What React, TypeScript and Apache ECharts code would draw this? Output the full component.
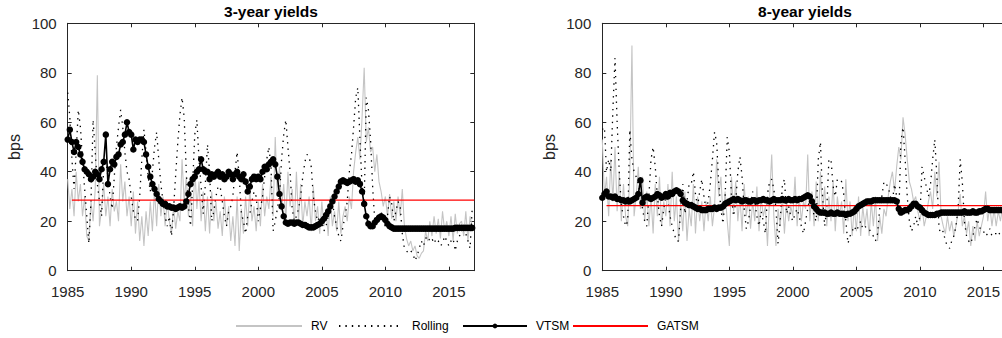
import React, { useEffect, useRef } from "react";
import * as echarts from "echarts";

// Bimonthly observations starting January 1985 (6 values per year)
const START_YEAR = 1985;
const STEP = 1 / 6;

const years = ["1985", "1990", "1995", "2000", "2005", "2010", "2015"];

// ---------- 3-year yields ----------
const rv3 = [
  37, 25, 33, 22, 40, 28,
  35, 22, 30, 14, 12, 28,
  20, 33, 79, 18, 25, 35,
  22, 30, 18, 33, 24, 28,
  20, 43, 28, 36, 22, 30,
  18, 32, 15, 28, 12, 22,
  10, 24, 14, 28, 16, 33,
  18, 35, 22, 30, 18, 28,
  20, 15, 26, 17, 24, 20,
  45, 28, 38, 22, 30, 18,
  42, 25, 36, 20, 32, 16,
  30, 15, 32, 20, 28, 17,
  24, 14, 30, 18, 26, 12,
  22, 10, 30, 8, 25, 15,
  30, 18, 33, 20, 26, 16,
  28, 18, 35, 22, 30, 25,
  38, 22, 54, 30, 42, 25,
  35, 20, 40, 26, 33, 18,
  40, 20, 35, 18, 28, 22,
  30, 16, 34, 20, 26, 15,
  28, 18, 25, 14, 30, 18,
  24, 16, 28, 15, 22, 26,
  20, 30, 25, 40, 48, 54,
  45, 62, 82, 52, 58, 48,
  50, 40, 47, 36, 32, 26,
  30, 22, 31, 21, 28, 20,
  30, 22, 33, 18, 13, 10,
  12, 8, 10, 6, 5, 7,
  8, 16, 12, 20, 14, 22,
  15, 21, 13, 24, 16, 20,
  14, 22, 12, 23, 15, 19,
  20, 14, 24, 12, 22, 18,
];

const rolling3 = [
  72, 62, 45, 33, 48, 65,
  58, 45, 33, 22, 11, 28,
  61, 48, 35, 28, 22, 42,
  45, 38, 30, 25, 38, 50,
  58, 65, 58, 48, 40, 37,
  30, 24, 21, 20, 30, 45,
  57, 48, 38, 32, 40, 50,
  56, 45, 35, 28, 22, 18,
  22, 14, 25, 39, 52, 63,
  70, 62, 40, 26, 18, 35,
  55, 61, 45, 34, 23, 35,
  51, 40, 20, 24, 30, 34,
  34, 28, 22, 18, 24, 26,
  30, 40, 48, 38, 23, 20,
  15, 22, 23, 28, 32, 30,
  20, 25, 30, 38, 45, 50,
  42, 16, 20, 25, 30, 45,
  55, 61, 50, 40, 25, 20,
  22, 25, 30, 38, 44, 47,
  46, 42, 30, 24, 20, 22,
  20, 16, 18, 22, 25, 28,
  22, 18, 14, 12, 18, 22,
  28, 40, 47, 58, 70, 74,
  53, 34, 27, 70, 65, 53,
  34, 20, 22, 20, 24, 20,
  18, 22, 30, 27, 20, 24,
  28, 26, 15, 9, 8, 7,
  8, 7, 4, 6, 9, 12,
  10, 13, 14, 12, 13, 11,
  13, 12, 10, 11, 14, 12,
  10, 12, 13, 8, 12, 14,
  16, 18, 15, 12, 9, 25,
];

const vtsm3 = [
  53, 57, 52, 48, 52, 50,
  47, 44, 41, 40, 39, 37,
  38, 40, 39, 37, 41, 44,
  55, 35, 41, 44, 43, 46,
  47, 51, 52, 55, 60, 56,
  55, 49, 53, 52, 53, 53,
  52, 47, 42, 38, 35, 33,
  31, 29, 28, 27, 27, 26,
  26, 25.5, 25.5, 25, 25.5, 26,
  25.5, 26, 28, 31, 35, 37,
  38, 40, 41, 45, 41, 40,
  40, 37, 39, 38, 39, 40,
  38, 39, 37, 38, 40, 39,
  37, 39, 40, 38, 37, 39,
  36, 32, 34, 37, 38, 37,
  38, 37, 40, 42, 41, 43,
  44, 45, 43, 38, 31, 26,
  22, 19.5, 19, 19.5, 19.5, 19,
  19.5, 19.5, 19, 18.5, 18.5, 18,
  17.5, 17.5, 17.5, 18, 18.5, 19,
  20, 21, 22.5, 24, 26, 28,
  30, 32, 34, 36, 36.5, 36,
  35.5, 36, 36.5, 37, 36, 36.5,
  35, 32, 27, 22, 19, 18,
  18, 19.5, 20.5, 21.5, 22, 21.5,
  20.5, 19, 18, 17.5, 17, 17,
  17, 17, 17, 17, 17, 17,
  17, 17, 17, 17, 17, 17,
  17, 17, 17, 17, 17, 17,
  17, 17, 17, 17, 17, 17,
  17, 17, 17, 17.3, 17.3, 17.3,
  17.3, 17.3, 17.3, 17.3, 17.3, 17.3,
];

const gatsm3 = 28.5;

// ---------- 8-year yields ----------
const rv8 = [
  53, 30, 38, 22, 45, 28,
  50, 24, 40, 20, 35, 22,
  18, 40, 91, 22, 30, 42,
  25, 38, 20, 32, 18, 30,
  15, 35, 22, 38, 18, 28,
  22, 35, 18, 40, 20, 30,
  12, 28, 16, 32, 12, 25,
  18, 35, 15, 30, 20, 28,
  16, 28, 20, 30, 18, 26,
  45, 30, 38, 22, 32, 20,
  10, 38, 24, 36, 20, 30,
  16, 35, 22, 30, 17, 28,
  20, 34, 16, 30, 22, 26,
  10, 30, 47, 22, 10, 25,
  18, 30, 15, 28, 20, 26,
  22, 38, 18, 30, 20, 28,
  25, 47, 20, 32, 18, 36,
  20, 40, 24, 34, 18, 30,
  20, 36, 16, 30, 22, 28,
  15, 37, 20, 28, 14, 26,
  16, 30, 14, 26, 18, 25,
  14, 28, 18, 30, 12, 22,
  15, 25, 22, 30, 36, 40,
  32, 42, 50, 45, 62, 55,
  45, 36, 33, 28, 30, 24,
  20, 26, 18, 22, 28, 32,
  25, 40, 30, 44, 22, 18,
  15, 22, 16, 20, 14, 18,
  24, 31, 18, 22, 15, 20,
  10, 18, 12, 20, 14, 18,
  22, 32, 20, 26, 18, 25,
  18, 24, 20, 26, 18, 22,
];

const rolling8 = [
  57, 58, 40, 45, 40, 65,
  86, 60, 40, 26, 22, 18,
  20, 57, 45, 40, 38, 35,
  30, 25, 20, 18, 30, 45,
  50, 42, 30, 22, 18, 25,
  30, 28, 22, 18, 15, 12,
  12, 25, 35, 23, 28, 35,
  35, 40, 31, 26, 32, 37,
  30, 25, 28, 35, 45, 56,
  52, 35, 25, 19, 30, 54,
  48, 30, 22, 28, 40, 46,
  38, 25, 17, 20, 26, 32,
  28, 22, 18, 24, 20, 15,
  31, 36, 37, 33, 25, 11,
  20, 34, 37, 23, 26, 22,
  20, 23, 25, 22, 18, 15,
  20, 25, 30, 28, 22, 20,
  45, 52, 30, 18, 25, 45,
  45, 34, 30, 37, 37, 36,
  31, 20, 11, 14, 16, 18,
  16, 18, 20, 17, 18, 17,
  17, 15, 14, 12, 15, 25,
  30, 36, 35, 34, 30, 28,
  35, 30, 22, 52, 58, 45,
  30, 20, 16, 18, 22, 18,
  22, 42, 38, 34, 30, 35,
  45, 53, 38, 17, 15, 16,
  12, 10, 9, 12, 14, 18,
  25, 45, 36, 20, 14, 12,
  11, 14, 18, 21, 18, 16,
  16, 14, 15, 17, 14, 15,
  15, 16, 14, 15, 17, 16,
];

const vtsm8 = [
  29.5, 31, 32, 30, 30, 29.5,
  30, 29, 29, 28.5, 28.5, 28,
  28.5, 28, 28.5, 29, 29.5, 31,
  36.5, 27.5, 29.5, 30, 29.5, 29,
  29.5, 30, 31, 30.5, 29.5, 30,
  31, 30, 31.5, 31, 32, 32.5,
  32, 31, 28.5, 27.5, 27, 26.5,
  26.5, 26, 25.5, 25, 25, 24.5,
  24.5, 24.5, 25, 25, 25, 25.5,
  25, 25.5, 25.5, 26, 27, 27.5,
  28, 28.5, 29, 28.5, 29, 28.5,
  28, 28.5, 28.5, 28, 28, 28.5,
  28.5, 28, 28.5, 28.5, 29, 28.5,
  28.5, 28, 28.5, 29, 28.5, 28.5,
  28.5, 29, 28.5, 28.5, 29, 28.5,
  28.5, 29, 28.5, 29, 29, 29.5,
  30, 30.5, 30, 28, 26, 25,
  24, 23.5, 23.5, 23.5, 23, 23,
  23.5, 23, 23, 23.5, 23, 23,
  23, 22.5, 23, 23, 23.5, 24,
  25, 26, 26.5, 27, 27.5, 28,
  28, 28, 28.5, 28.5, 28.5, 28.5,
  28.5, 28.5, 28.5, 28.5, 28.5, 28.5,
  28.5, 28, 25, 23.5, 24, 24.5,
  24.5, 25, 26, 27, 27, 26,
  25.5, 24.5, 23.5, 23, 22.5, 22.5,
  22.5, 22.5, 23, 23, 23.5, 23.5,
  23.5, 23.5, 23.5, 23.5, 23.5, 23.5,
  23.5, 23.5, 23.5, 24, 23.5, 23.5,
  23.5, 24, 23.5, 23.5, 24, 24,
  24.5, 25, 25, 24.5, 24.5, 24.5,
  24.5, 24.5, 24.5, 24.5, 24.5, 24.5,
];

const gatsm8 = 26.3;
const gatsmStart = 1985.33;
const xMin = 1985;
const xMax = 2017;

const seriesNames = ["RV", "Rolling", "VTSM", "GATSM"];

const toPairs = (vals: number[]) => vals.map((v, i) => [START_YEAR + i * STEP, v]);

const AX = "#262626";
const FONT = "'Liberation Sans', Arial, Helvetica, sans-serif";

function xAxes(gridIndex: number) {
  const common = {
    type: "value",
    gridIndex,
    min: xMin,
    max: xMax,
    interval: 5,
    axisLine: { show: true, onZero: false, lineStyle: { color: AX, width: 1 } },
    axisTick: { show: true, inside: true, length: 4, lineStyle: { color: AX } },
    splitLine: { show: false },
  };
  return [
    {
      ...common,
      position: "bottom",
      axisLabel: {
        show: true,
        fontSize: 15,
        fontFamily: FONT,
        color: AX,
        margin: 13,
        showMaxLabel: false,
        formatter: (v: number) => (years.includes(String(v)) ? String(v) : ""),
      },
    },
    { ...common, position: "top", axisLabel: { show: false } },
  ];
}

function yAxes(gridIndex: number) {
  const common = {
    type: "value",
    gridIndex,
    min: 0,
    max: 100,
    interval: 20,
    axisLine: { show: true, onZero: false, lineStyle: { color: AX, width: 1 } },
    axisTick: { show: true, inside: true, length: 4, lineStyle: { color: AX } },
    splitLine: { show: false },
  };
  return [
    {
      ...common,
      position: "left",
      name: "bps",
      nameLocation: "middle",
      nameGap: 45,
      nameTextStyle: { fontSize: 16, fontFamily: FONT, color: AX },
      axisLabel: { show: true, fontSize: 15, fontFamily: FONT, color: AX, margin: 11 },
    },
    { ...common, position: "right", axisLabel: { show: false } },
  ];
}

function panelSeries(idx: number, rv: number[], rolling: number[], vtsm: number[], gatsm: number) {
  const xi = idx * 2;
  const yi = idx * 2;
  return [
    {
      name: seriesNames[0],
      type: "line",
      xAxisIndex: xi,
      yAxisIndex: yi,
      data: toPairs(rv),
      symbol: "none",
      lineStyle: { color: "#c4c4c4", width: 1.1 },
      itemStyle: { color: "#c4c4c4" },
      z: 2,
    },
    {
      name: seriesNames[1],
      type: "line",
      xAxisIndex: xi,
      yAxisIndex: yi,
      data: toPairs(rolling),
      symbol: "none",
      lineStyle: { color: "#000", width: 1.3, type: [1.4, 5] },
      itemStyle: { color: "#000" },
      z: 3,
    },
    {
      name: seriesNames[3],
      type: "line",
      xAxisIndex: xi,
      yAxisIndex: yi,
      data: [
        [gatsmStart, gatsm],
        [xMax, gatsm],
      ],
      symbol: "none",
      lineStyle: { color: "#ff0000", width: 1.3 },
      itemStyle: { color: "#ff0000" },
      z: 4,
    },
    {
      name: seriesNames[2],
      type: "line",
      xAxisIndex: xi,
      yAxisIndex: yi,
      data: toPairs(vtsm),
      symbol: "circle",
      symbolSize: 6.5,
      showSymbol: true,
      lineStyle: { color: "#000", width: 1.6 },
      itemStyle: { color: "#000" },
      z: 5,
    },
  ];
}

function legendItem(name: string, left: number, width: number, showDot: boolean) {
  return {
    data: [name],
    left,
    top: 320,
    padding: 0,
    itemGap: 0,
    itemWidth: width,
    itemHeight: 6,
    selectedMode: false,
    itemStyle: showDot ? {} : { opacity: 0 },
    textStyle: { fontSize: 12, fontFamily: FONT, color: "#000", padding: [0, 0, 0, 4] },
  };
}

export default function App() {
  const ref = useRef<HTMLDivElement>(null);
  useEffect(() => {
    if (!ref.current) return;
    const chart = echarts.init(ref.current, undefined, { renderer: "svg" });
    const option = {
      animation: false,
      backgroundColor: "#fff",
      textStyle: { fontFamily: FONT },
      grid: [
        { left: 67.7, top: 23.3, width: 406.6, height: 247.4 },
        { left: 602.3, top: 23.3, width: 406.6, height: 247.4 },
      ],
      xAxis: [...xAxes(0), ...xAxes(1)],
      yAxis: [...yAxes(0), ...yAxes(1)],
      legend: [
        legendItem("RV", 235, 66, false),
        legendItem("Rolling", 338, 64, false),
        legendItem("VTSM", 462, 64, true),
        legendItem("GATSM", 572, 75, false),
      ],
      graphic: [
        {
          type: "text",
          x: 271,
          y: 11,
          style: {
            text: "3-year yields",
            fontSize: 15.5,
            fontWeight: "bold",
            fontFamily: FONT,
            fill: "#000",
            align: "center",
            verticalAlign: "middle",
          },
        },
        {
          type: "text",
          x: 805,
          y: 11,
          style: {
            text: "8-year yields",
            fontSize: 15.5,
            fontWeight: "bold",
            fontFamily: FONT,
            fill: "#000",
            align: "center",
            verticalAlign: "middle",
          },
        },
      ],
      series: [
        ...panelSeries(0, rv3, rolling3, vtsm3, gatsm3),
        ...panelSeries(1, rv8, rolling8, vtsm8, gatsm8),
      ],
    };
    chart.setOption(option as any);
    return () => chart.dispose();
  }, []);
  return (
    <div
      style={{
        position: "fixed",
        left: 0,
        top: 0,
        width: 1002,
        height: 338,
        overflow: "hidden",
        background: "#fff",
      }}
    >
      <div ref={ref} style={{ width: 1020, height: 338 }} />
    </div>
  );
}
